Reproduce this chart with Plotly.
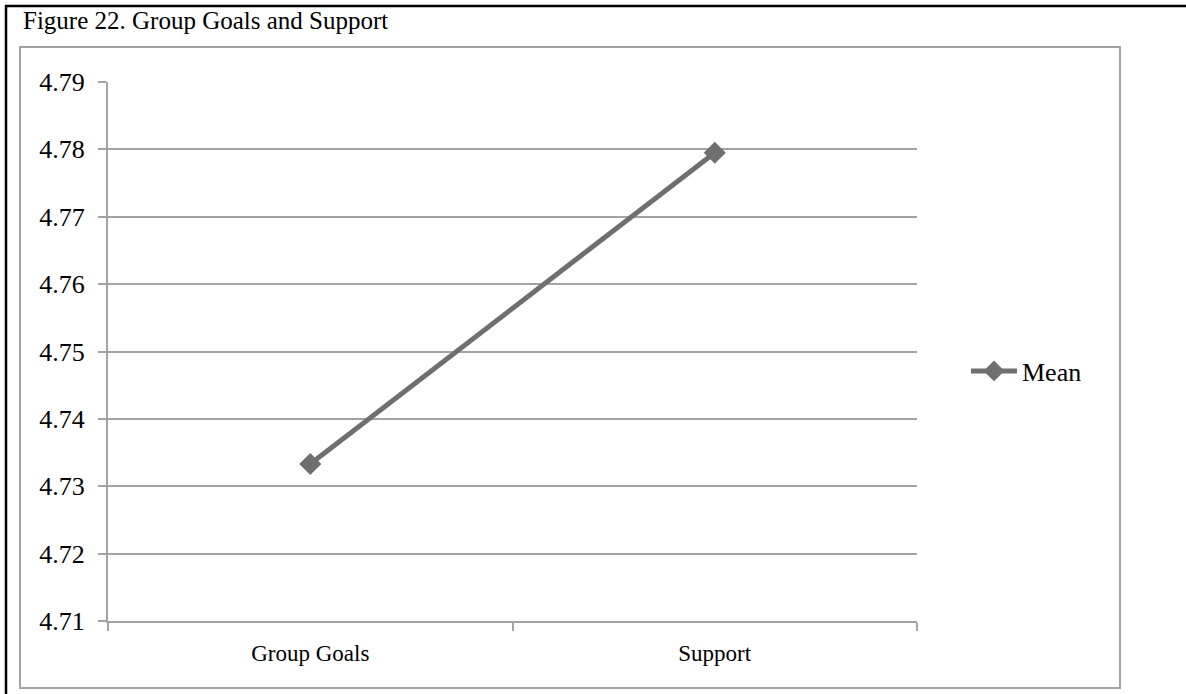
import plotly.graph_objects as go

categories = ["Group Goals", "Support"]
mean_values = [4.7333, 4.7795]
y_ticks = [4.71, 4.72, 4.73, 4.74, 4.75, 4.76, 4.77, 4.78, 4.79]
y_tick_labels = ["4.71", "4.72", "4.73", "4.74", "4.75", "4.76", "4.77", "4.78", "4.79"]
title_text = "Figure 22. Group Goals and Support"

W, H = 1186, 694
L, R, T, B = 108, 917, 82, 621  # plot area in pixels


def px(x):
    return (x - L) / (R - L)


def py(y):
    return (B - y) / (B - T)


LINE_COLOR = "#6f6f6f"
GRID = "#a3a3a3"
FONT = "Liberation Serif"

fig = go.Figure()
fig.add_trace(go.Scatter(
    x=categories, y=mean_values, mode="lines+markers", name="Mean",
    line=dict(color=LINE_COLOR, width=5),
    marker=dict(symbol="diamond", size=17, color=LINE_COLOR),
))

shapes = [
    # outer black border (left and top)
    dict(type="line", xref="paper", yref="paper", x0=px(6), x1=px(6), y0=py(5), y1=py(700),
         line=dict(color="black", width=2.5)),
    dict(type="line", xref="paper", yref="paper", x0=px(5), x1=px(1190), y0=py(6), y1=py(6),
         line=dict(color="black", width=2.5)),
    # gray chart box
    dict(type="rect", xref="paper", yref="paper", x0=px(20), x1=px(1120), y0=py(688), y1=py(47),
         line=dict(color=GRID, width=2), layer="below"),
]

fig.update_layout(
    width=W, height=H,
    margin=dict(l=L, r=W - R, t=T, b=H - B, pad=0),
    paper_bgcolor="white", plot_bgcolor="white",
    font=dict(family=FONT, size=22, color="black"),
    shapes=shapes,
    showlegend=True,
    legend=dict(x=px(966), y=py(371), xanchor="left", yanchor="middle",
                font=dict(family=FONT, size=26, color="black"),
                bgcolor="rgba(0,0,0,0)", itemwidth=46),
    annotations=[dict(text=title_text, xref="paper", yref="paper", x=px(21), y=py(36),
                      xanchor="left", yanchor="bottom", showarrow=False,
                      font=dict(family=FONT, size=25, color="black"))],
    xaxis=dict(type="category", range=[-0.5, 1.5], showline=True, linecolor=GRID, linewidth=2,
               ticks="outside", tickson="boundaries", ticklen=8, tickcolor=GRID, tickwidth=2,
               ticklabelstandoff=10,
               showgrid=False, tickfont=dict(family=FONT, size=23, color="black"), zeroline=False),
    yaxis=dict(range=[4.71, 4.79], tickvals=y_ticks, ticktext=y_tick_labels, showline=True,
               linecolor=GRID, linewidth=2, ticks="outside", ticklen=8, tickcolor=GRID, tickwidth=2,
               ticklabelstandoff=8,
               showgrid=True, gridcolor=GRID, gridwidth=2, zeroline=False,
               tickfont=dict(family=FONT, size=26, color="black")),
)

fig.write_html("out.html")
